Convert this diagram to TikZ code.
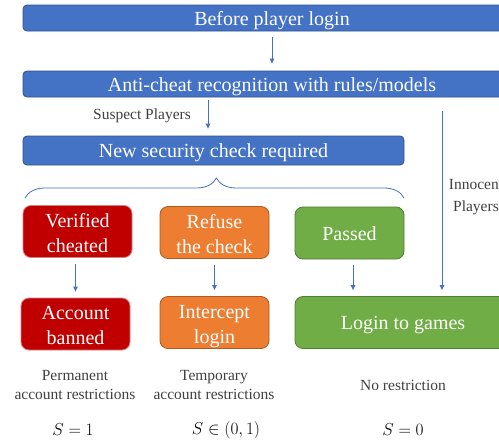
\documentclass[tikz,border=0pt]{standalone}
\usepackage{fontspec}
\setmainfont{Liberation Serif}
\usetikzlibrary{arrows.meta,calc,positioning,decorations.pathreplacing}

\definecolor{barblue}{HTML}{4472C4}
\definecolor{barline}{HTML}{2F528F}
\definecolor{cheatred}{HTML}{C00000}
\definecolor{cheatline}{HTML}{D98080}
\definecolor{refuseorange}{HTML}{ED7D31}
\definecolor{refuseline}{HTML}{AE5A21}
\definecolor{passgreen}{HTML}{70AD47}
\definecolor{passline}{HTML}{507E32}
\definecolor{notegray}{HTML}{404040}

\tikzset{
  bar/.style={draw=barline, fill=barblue, text=white, rounded corners=4pt,
    line width=0.8pt, font=\fontsize{20}{24}\selectfont,
    text height=16pt, text depth=2pt},
  stagebox/.style={rounded corners=8pt, line width=0.8pt, text=white,
    minimum width=109pt, minimum height=52pt, align=center,
    font=\fontsize{20}{25}\selectfont, text height=16pt, text depth=2pt},
  twoline/.style={text height=43pt, text depth=2pt},
  redbox/.style={stagebox, twoline, draw=cheatline, fill=cheatred},
  orangebox/.style={stagebox, twoline, draw=refuseline, fill=refuseorange},
  greenbox/.style={stagebox, draw=passline, fill=passgreen},
  note/.style={text=notegray, align=center, font=\fontsize{15.5}{19}\selectfont},
  score/.style={font=\fontsize{17}{20}\selectfont},
  flow/.style={draw=barblue, line width=0.9pt, -{Triangle[length=5pt,width=4.5pt]}},
}

\begin{document}
\begin{tikzpicture}[x=1pt,y=-1pt]
  \useasboundingbox (0,0) rectangle (499,442);
  \clip (0,0) rectangle (499,442);

  % blue bars
  \node[bar, minimum width=498pt, minimum height=26pt] (before) at (272,18) {Before player login};
  \node[bar, minimum width=498pt, minimum height=26pt] (detect) at (272,84) {Anti-cheat recognition with rules/models};
  \node[bar, minimum width=381pt, minimum height=29pt] (check) at (213.5,150.5) {New security check required};

  % results of the check
  \node[redbox] (cheated) at (77.5,231.5) {Verified\\cheated};
  \node[orangebox] (refuse) at (214.5,232.5) {Refuse\\the check};
  \node[greenbox] (passed) at (349.5,233) {Passed};

  \node[redbox] (banned) at (75.5,324) {Account\\banned};
  \node[orangebox] (intercept) at (214.5,322.5) {Intercept\\login};
  \node[greenbox, minimum width=216pt] (games) at (403,322.5) {Login to games};

  % texts
  \node[note] (suspect) at (142,116) {Suspect Players};
  \node[note, font=\fontsize{15.5}{22}\selectfont] (innocent) at (476,197) {Innocent\\Players};
  \node[note] (permanent) at (75,384.5) {Permanent\\account restrictions};
  \node[note] (temporary) at (214,384.5) {Temporary\\account restrictions};
  \node[note] (norestr) at (403,385) {No restriction};

  \node[score] (s1) at (73,430) {$S=1$};
  \node[score] (s01) at (226,430) {$S\in(0,1)$};
  \node[score] (s0) at (403,430) {$S=0$};

  % arrows
  \draw[flow, shorten <=6pt, shorten >=7pt] (before.south) -- (detect.north);
  \draw[flow, shorten <=3pt, shorten >=7pt] ([xshift=-5.5pt]check.north |- detect.south) -- ([xshift=-5.5pt]check.north);
  \draw[barblue, line width=0.8pt, decorate, decoration={brace, amplitude=20pt, aspect=0.505}]
    (25,198) -- (404,198);
  \draw[flow, shorten <=6pt, shorten >=6pt] (cheated.south -| banned) -- (banned.north);
  \draw[flow, shorten <=6pt, shorten >=6pt] (refuse.south) -- (intercept.north);
  \draw[flow, shorten <=6pt, shorten >=6pt] ([xshift=3.5pt]passed.south) -- ([xshift=3.5pt]passed.south |- games.north);
  \coordinate (innstart) at (442,111);
  \draw[flow, shorten >=6pt] (innstart) -- (innstart |- games.north);
\end{tikzpicture}
\end{document}
